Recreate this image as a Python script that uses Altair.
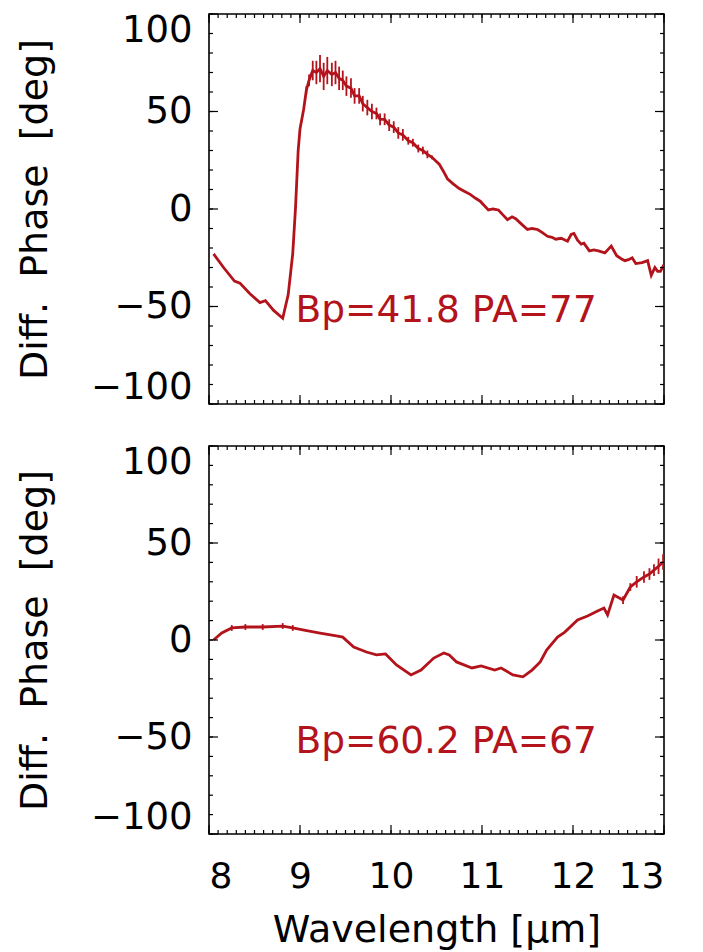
import altair as alt
import pandas as pd

RED = "#b3131b"
FONT = "DejaVu Sans"

# ---- top panel (Bp=41.8 PA=77) ----
top_wl = [8.05, 8.16, 8.28, 8.34, 8.45, 8.56, 8.62, 8.71, 8.81, 8.87, 8.92, 8.95, 8.98, 9.00, 9.04,
          9.07, 9.10, 9.14, 9.18, 9.22, 9.26, 9.30, 9.35, 9.39, 9.43, 9.47, 9.51, 9.56, 9.60, 9.65,
          9.69, 9.74, 9.79, 9.84, 9.88, 9.93, 9.98, 10.03, 10.08, 10.13, 10.19, 10.24, 10.30, 10.35, 10.40,
          10.45, 10.53, 10.58, 10.62, 10.68, 10.75, 10.81, 10.87, 10.93, 10.98, 11.07, 11.12, 11.18, 11.23, 11.28,
          11.33, 11.37, 11.44, 11.50, 11.55, 11.61, 11.66, 11.72, 11.77, 11.81, 11.87, 11.94, 11.98, 12.01, 12.05,
          12.09, 12.12, 12.18, 12.23, 12.28, 12.35, 12.42, 12.48, 12.53, 12.57, 12.61, 12.65, 12.69, 12.76, 12.82,
          12.86, 12.90, 12.93, 12.96, 13.00]
top_phase = [-23, -30, -37, -38, -43.5, -48, -47, -52, -56, -44, -23, 0, 30, 41, 51,
             61, 66, 71, 70, 72, 68, 71, 69, 70, 67, 66, 63, 62, 58, 58,
             54, 52, 50, 49, 46, 46, 43, 42, 39, 38, 35, 34, 31, 30, 28,
             26.5, 23, 19, 15.5, 13, 10.5, 9, 7.5, 5.5, 4, -0.5, 0, -0.5, -3, -5.5,
             -4, -5, -8, -10.5, -10, -10.5, -12, -14, -14.5, -15.5, -15, -16.5, -13, -12.5, -16,
             -18, -17.5, -21.5, -21, -21.5, -22.5, -19, -24, -25.5, -26.5, -26, -25, -28, -27.5, -26.5,
             -34, -30, -32, -32, -28.5]
top_err = [0, 0, 0, 0, 0, 0, 0, 0, 0, 0, 0, 0, 0, 0, 0,
           2, 3, 5, 6, 7, 7, 7, 6, 6, 6, 5, 5, 5, 4, 4,
           4, 4, 4, 3, 3, 3, 3, 3, 3, 3, 2, 2, 2, 2, 2,
           1, 0, 0, 0, 0, 0, 0, 0, 0, 0, 0, 0, 0, 0, 0,
           0, 0, 0, 0, 0, 0, 0, 0, 0, 0, 0, 0, 0, 0, 0,
           0, 0, 0, 0, 0, 0, 0, 0, 0, 0, 0, 0, 0, 0, 0,
           0, 0, 0, 0, 0]
top_label = "Bp=41.8 PA=77"

# ---- bottom panel (Bp=60.2 PA=67) ----
bot_wl = [8.05, 8.14, 8.25, 8.40, 8.59, 8.81, 8.92, 9.03, 9.22, 9.40, 9.47, 9.59, 9.73, 9.84, 9.94,
          10.06, 10.22, 10.33, 10.47, 10.58, 10.64, 10.72, 10.89, 10.99, 11.14, 11.21, 11.34, 11.45, 11.55, 11.64,
          11.71, 11.83, 11.91, 12.05, 12.16, 12.27, 12.34, 12.38, 12.45, 12.55, 12.63, 12.70, 12.78, 12.84, 12.89,
          12.94, 12.99]
bot_phase = [0, 3.6, 6.2, 6.7, 6.7, 7.2, 6.2, 5.2, 3.6, 2.1, 1.5, -3.6, -6.2, -7.7, -7.2,
             -12.9, -18, -15.5, -9.3, -6.7, -7.7, -11.3, -14.4, -13.4, -15.5, -14.4, -18, -19, -15.5, -11.3,
             -5.2, 1.5, 4.1, 10.3, 12.4, 15, 16.5, 12.9, 23.2, 20.6, 27.3, 30, 32.5, 34, 36,
             38, 40.2]
bot_err = [0, 0, 1.5, 1.5, 1.5, 1.5, 1.5, 0, 0, 0, 0, 0, 0, 0, 0,
           0, 0, 0, 0, 0, 0, 0, 0, 0, 0, 0, 0, 0, 0, 0,
           0, 0, 0, 0, 0, 0, 0, 0, 0, 2, 2, 3, 3, 3, 3,
           4, 4]
bot_label = "Bp=60.2 PA=67"

label_wl = 8.95
label_phase = -58

x_major = [8, 9, 10, 11, 12, 13]
x_minor = [round(8 + 0.1 * i, 1) for i in range(51)]
y_major = [-100, -50, 0, 50, 100]
y_minor = list(range(-100, 101, 10))

W = 455
XMIN, XMAX = 8, 13
YMIN, YMAX = -100, 100

xs = alt.Scale(domain=[XMIN, XMAX], nice=False, zero=False)
ys = alt.Scale(domain=[YMIN, YMAX], nice=False, zero=False)


def tick_frame(h):
    # inward tick marks on all four sides, lengths given in pixels
    rows = []
    for vals, px in ((x_major, 9), (x_minor, 4)):
        dy = px / h * (YMAX - YMIN)
        for v in vals:
            rows.append((v, v, YMIN, YMIN + dy))
            rows.append((v, v, YMAX, YMAX - dy))
    for vals, px in ((y_major, 9), (y_minor, 4)):
        dx = px / W * (XMAX - XMIN)
        for v in vals:
            rows.append((XMIN, XMIN + dx, v, v))
            rows.append((XMAX, XMAX - dx, v, v))
    return pd.DataFrame(rows, columns=["x", "x2", "y", "y2"])


def panel(wl, ph, err, label, h, show_x):
    df = pd.DataFrame({"wl": wl, "ph": ph,
                       "lo": [p - e for p, e in zip(ph, err)],
                       "hi": [p + e for p, e in zip(ph, err)],
                       "e": err})
    if show_x:
        xaxis = alt.Axis(
            values=x_major, format="d", title="Wavelength [μm]", ticks=False, domain=False, grid=False,
            labelFontSize=36, titleFontSize=38, labelPadding=25, titlePadding=17,
            labelFont=FONT, titleFont=FONT, titleFontWeight="normal",
            labelColor="black", titleColor="black")
    else:
        xaxis = alt.Axis(labels=False, ticks=False, domain=False, grid=False, title="")
    yaxis = alt.Axis(
        values=y_major, title="Diff.\u00a0 Phase\u00a0 [deg]", ticks=False, domain=False, grid=False,
        labelFontSize=37, titleFontSize=38, labelPadding=17, titlePadding=36,
        labelFlush=True, labelFlushOffset=2,
        labelFont=FONT, titleFont=FONT, titleFontWeight="normal",
        labelColor="black", titleColor="black")
    line = alt.Chart(df).mark_line(color=RED, strokeWidth=2.8, clip=True).encode(
        x=alt.X("wl:Q", scale=xs, axis=xaxis), y=alt.Y("ph:Q", scale=ys, axis=yaxis))
    errs = alt.Chart(df[df["e"] > 0].reset_index(drop=True)).mark_rule(color=RED, strokeWidth=1.8).encode(
        x="wl:Q", y="lo:Q", y2="hi:Q")
    lab = alt.Chart(pd.DataFrame({"lx": [label_wl], "ly": [label_phase], "lt": [label]})).mark_text(
        align="left", baseline="alphabetic", fontSize=37.5, font=FONT, color=RED).encode(
        x="lx:Q", y="ly:Q", text="lt:N")
    ticks = alt.Chart(tick_frame(h)).mark_rule(color="black", strokeWidth=1.2).encode(
        x="x:Q", x2="x2:Q", y="y:Q", y2="y2:Q")
    return alt.layer(line, errs, lab, ticks).properties(width=W, height=h)


top = panel(top_wl, top_phase, top_err, top_label, 390, False)
bot = panel(bot_wl, bot_phase, bot_err, bot_label, 388, True)

chart = alt.vconcat(top, bot, spacing=36).properties(
    padding={"left": 7, "top": 2, "right": 5, "bottom": 0}
).configure_view(stroke="black", strokeWidth=1.6)

chart.save("out.html", embed_options={"renderer": "svg", "actions": False})
